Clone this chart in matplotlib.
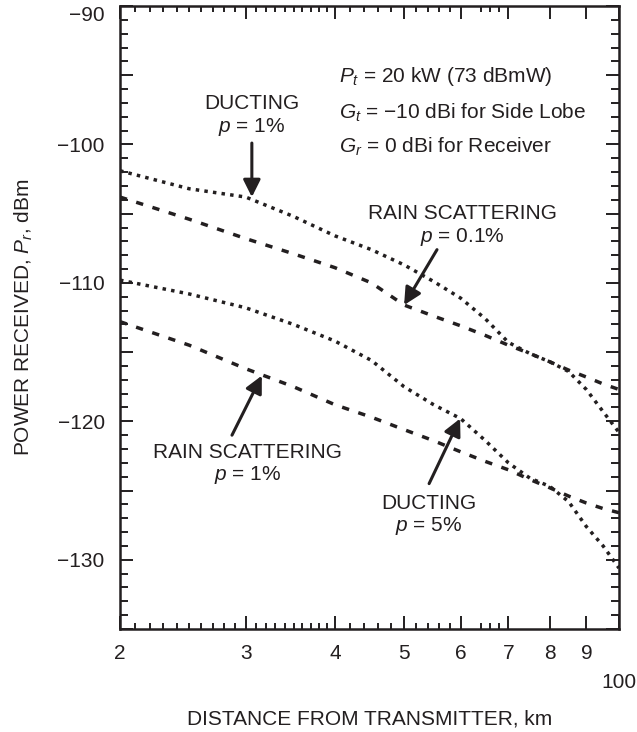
import numpy as np
import matplotlib.pyplot as plt
from matplotlib.ticker import FixedLocator

plt.rcParams['font.family'] = ['Liberation Sans', 'DejaVu Sans']
plt.rcParams['mathtext.fontset'] = 'custom'
plt.rcParams['mathtext.rm'] = 'Liberation Sans'
plt.rcParams['mathtext.it'] = 'Liberation Sans:italic'

INK = '#231f20'

# distance, km
km = [20, 25, 30, 35, 40, 45, 50, 55, 60, 65, 70, 75, 80, 85, 90, 95, 100]

# power received, dBm
duct_1 = [-101.9, -103.2, -103.8, -105.2, -106.6, -107.6, -108.7, -109.9, -111.1,
          -112.6, -114.3, -115.1, -115.7, -116.4, -117.7, -119.3, -120.8]
rain_01 = [-103.8, -105.4, -106.8, -107.9, -108.9, -110.0, -111.6, -112.4, -113.1,
           -113.8, -114.5, -115.1, -115.7, -116.3, -116.8, -117.3, -117.7]
duct_5 = [-109.8, -110.8, -111.8, -113.0, -114.2, -115.6, -117.5, -118.8, -119.8,
          -121.4, -123.0, -124.1, -124.7, -125.8, -127.6, -129.0, -130.6]
rain_1 = [-112.8, -114.5, -116.2, -117.5, -118.8, -119.7, -120.6, -121.4, -122.2,
          -122.9, -123.5, -124.2, -124.8, -125.4, -125.9, -126.3, -126.6]

xmajor = [20, 30, 40, 50, 60, 70, 80, 90, 100]
xlabels = ['2', '3', '4', '5', '6', '7', '8', '9', '']
xminor = [21, 22, 23, 24, 25, 26, 27, 28, 29,
          31, 32, 33, 34, 35, 36, 37, 38, 39,
          42, 44, 46, 48, 52, 54, 56, 58, 64, 66, 68]

fig = plt.figure(figsize=(6.37, 7.32), dpi=100)
ax = fig.add_axes([120/637, 1 - 629/732, 499/637, 623/732])

dot = dict(color=INK, lw=2.5, dashes=(1.0, 1.5), dash_capstyle='butt')
dash = dict(color=INK, lw=2.5, dashes=(2.1, 2.8), dash_capstyle='butt')
ax.plot(km, duct_1, **dot)
ax.plot(km, rain_01, **dash)
ax.plot(km, duct_5, **dot)
ax.plot(km, rain_1, **dash)

ax.set_xscale('log')
ax.set_xlim(20, 100)
ax.set_ylim(-135, -90)
ax.xaxis.set_major_locator(FixedLocator(xmajor))
ax.xaxis.set_minor_locator(FixedLocator(xminor))
ax.set_xticklabels(xlabels)
ax.xaxis.set_minor_formatter(plt.NullFormatter())
ymaj = list(range(-135, -89, 5))
ax.set_yticks(ymaj)
ax.set_yticklabels(['\u2212%d' % -v if v % 10 == 0 else '' for v in ymaj])
ax.yaxis.set_minor_locator(FixedLocator(list(range(-135, -89))))
ax.get_yticklabels()[-1].set_va('top')

ax.tick_params(which='both', direction='in', top=True, right=True,
               width=1.4, color=INK, labelsize=15, labelcolor=INK)
ax.tick_params(axis='x', which='major', length=9.5, pad=11)
ax.tick_params(axis='x', which='minor', length=4.5)
ax.tick_params(axis='y', which='major', length=9.5, pad=11)
ax.tick_params(axis='y', which='minor', length=5.5)
for s in ax.spines.values():
    s.set_linewidth(1.8)
    s.set_color(INK)

ax.text(100, -138.2, '100', ha='center', va='top', fontsize=15, color=INK)
ax.set_xlabel('DISTANCE FROM TRANSMITTER, km', fontsize=15, color=INK, labelpad=33)
ax.set_ylabel('POWER RECEIVED, $P_r$, dBm', fontsize=15, color=INK, labelpad=16)

arrow = dict(arrowstyle='-|>', lw=2.2, color=INK, mutation_scale=26,
             shrinkA=0, shrinkB=0)
ax.text(30.6, -97.95, 'DUCTING\n$p$ = 1%', ha='center', va='center',
        fontsize=15, color=INK, linespacing=1.15)
ax.annotate('', xy=(30.6, -103.8), xytext=(30.6, -99.9), arrowprops=arrow)

ax.text(60.3, -105.9, 'RAIN SCATTERING\n$p$ = 0.1%', ha='center', va='center',
        fontsize=15, color=INK, linespacing=1.15)
ax.annotate('', xy=(50.0, -111.6), xytext=(55.6, -107.6), arrowprops=arrow)

ax.text(30.2, -123.1, 'RAIN SCATTERING\n$p$ = 1%', ha='center', va='center',
        fontsize=15, color=INK, linespacing=1.15)
ax.annotate('', xy=(31.6, -116.7), xytext=(28.7, -121.0), arrowprops=arrow)

ax.text(54.2, -126.8, 'DUCTING\n$p$ = 5%', ha='center', va='center',
        fontsize=15, color=INK, linespacing=1.15)
ax.annotate('', xy=(59.9, -119.8), xytext=(54.2, -124.5), arrowprops=arrow)

ax.text(40.5, -95.1, '$P_t$ = 20 kW (73 dBmW)', ha='left', va='center',
        fontsize=15, color=INK)
ax.text(40.5, -97.7, '$G_t$ = \u221210 dBi for Side Lobe', ha='left', va='center',
        fontsize=15, color=INK)
ax.text(40.5, -100.2, '$G_r$ = 0 dBi for Receiver', ha='left', va='center',
        fontsize=15, color=INK)

fig.savefig('out.png', dpi=100)
